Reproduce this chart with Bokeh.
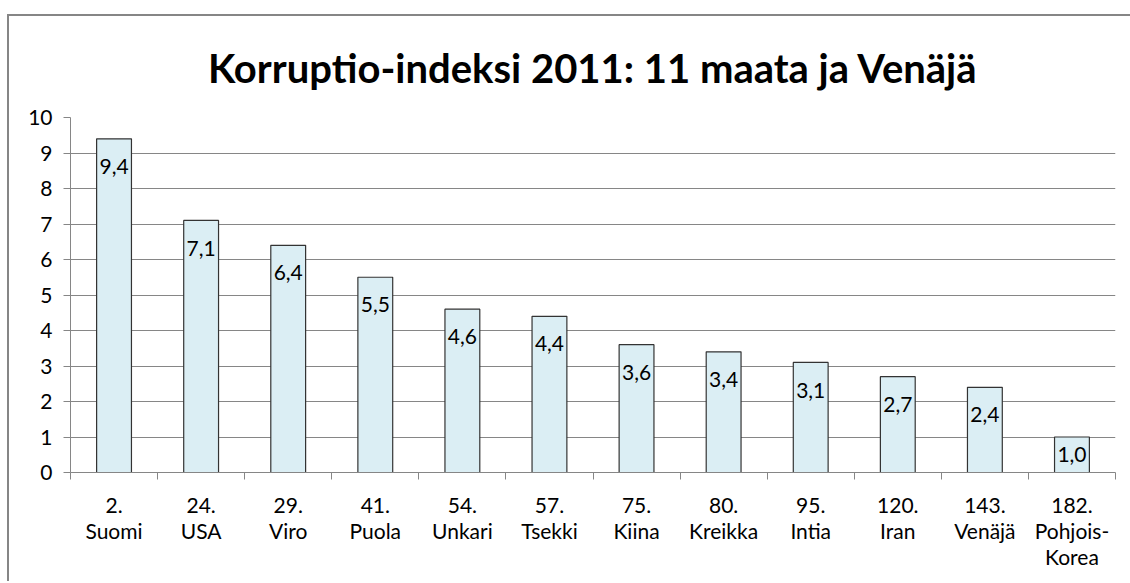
from bokeh.plotting import figure
from bokeh.models import ColumnDataSource, FixedTicker, Range1d, GlobalInlineStyleSheet
from bokeh.core.properties import value
from bokeh.embed import file_html
from bokeh.resources import INLINE

ranks = ["2.", "24.", "29.", "41.", "54.", "57.", "75.", "80.", "95.", "120.", "143.", "182."]
countries = ["Suomi", "USA", "Viro", "Puola", "Unkari", "Tsekki", "Kiina", "Kreikka",
             "Intia", "Iran", "Venäjä", "Pohjois-\nKorea"]
values = [9.4, 7.1, 6.4, 5.5, 4.6, 4.4, 3.6, 3.4, 3.1, 2.7, 2.4, 1.0]
title_text = "Korruptio-indeksi 2011: 11 maata ja Venäjä"
y_ticks = list(range(0, 11))

FONT = "Lato"
n = len(values)
xs = [i + 0.5 for i in range(n)]
labels = [f"{v:.1f}".replace(".", ",") for v in values]
# data label sits inside the bar end; on very short bars it is centred in the bar
label_y = [v - min(0.78, v / 2) for v in values]
src = ColumnDataSource(dict(x=xs, top=values, label=labels, ly=label_y))

p = figure(width=1140, height=567, output_backend="svg", toolbar_location=None,
           x_range=Range1d(0, n), y_range=Range1d(0, 10),
           min_border_left=61, min_border_right=34, min_border_top=100, min_border_bottom=111,
           styles={"transform": "translate(9px, 16px)",
                   "box-shadow": "-2px -2px 0 0 #868686"},
           stylesheets=[GlobalInlineStyleSheet(
               css="html, body { overflow: hidden !important; margin: 0; }")])

p.title.text = title_text
p.title.align = "center"
p.title.text_font = FONT
p.title.text_font_size = "40px"
p.title.text_font_style = "bold"
p.title.text_color = "black"
p.title.standoff = 51

p.vbar(x="x", top="top", width=0.4, bottom=0, source=src,
       fill_color="#DBEEF4", line_color="#333333", line_width=1.2)
p.text(x="x", y="ly", text="label", source=src, text_align="center", text_baseline="middle",
       text_font=value(FONT), text_font_size="21px", text_color="black")

p.outline_line_color = None
p.background_fill_color = "white"
p.border_fill_color = "white"

# y axis
p.yaxis.ticker = FixedTicker(ticks=y_ticks)
p.yaxis.axis_line_color = "#868686"
p.yaxis.major_tick_line_color = "#868686"
p.yaxis.major_tick_out = 7
p.yaxis.major_tick_in = 0
p.yaxis.minor_tick_line_color = None
p.yaxis.major_label_text_font = FONT
p.yaxis.major_label_text_font_size = "21px"
p.yaxis.major_label_text_color = "black"
p.yaxis.major_label_standoff = 11

# x axis: labels at centres, tick marks at category boundaries
p.xaxis.ticker = FixedTicker(ticks=xs, minor_ticks=list(range(0, n + 1)))
p.xaxis.major_label_overrides = {x: f"{r}\n{c}" for x, r, c in zip(xs, ranks, countries)}
p.xaxis.axis_line_color = "#868686"
p.xaxis.major_tick_line_color = None
p.xaxis.minor_tick_line_color = "#868686"
p.xaxis.minor_tick_out = 7
p.xaxis.minor_tick_in = 0
p.xaxis.major_label_text_font = FONT
p.xaxis.major_label_text_font_size = "21px"
p.xaxis.major_label_text_color = "black"
p.xaxis.major_label_text_line_height = 1.05
p.xaxis.major_label_standoff = 12

p.xgrid.grid_line_color = None
p.ygrid.ticker = FixedTicker(ticks=y_ticks)
p.ygrid.grid_line_color = "#868686"

open("out.html", "w").write(file_html(p, INLINE))
